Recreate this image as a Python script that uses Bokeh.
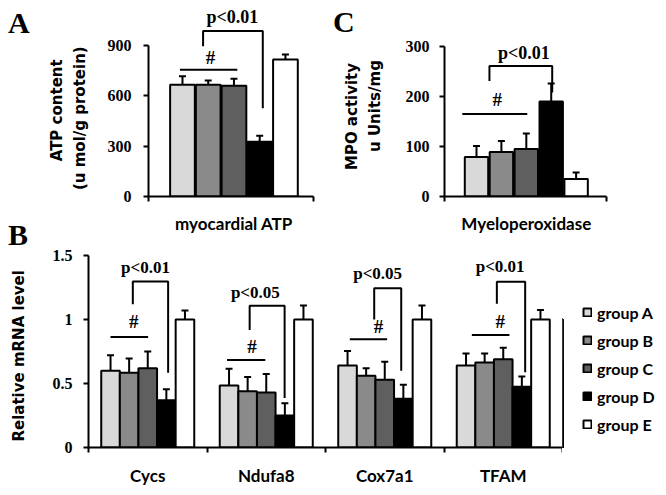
from bokeh.plotting import figure
from bokeh.layouts import column, row
from bokeh.models import (Range1d, FixedTicker, ColumnDataSource, Whisker, TeeHead,
                          Legend, LegendItem, LinearAxis, Div)
from bokeh.embed import file_html
from bokeh.resources import INLINE
from bokeh.core.properties import value

# ---------------- data ----------------
groups = ["group A", "group B", "group C", "group D", "group E"]

atp_category = "myocardial ATP"
atp_mean = [666, 666, 660, 326, 816]
atp_sd = [50, 26, 42, 36, 30]
atp_ticks = [0, 300, 600, 900]

mpo_category = "Myeloperoxidase"
mpo_mean = [79, 89, 95, 190, 35]
mpo_sd = [22, 22, 31, 36, 13]
mpo_ticks = [0, 100, 200, 300]

genes = ["Cycs", "Ndufa8", "Cox7a1", "TFAM"]
mrna_a = [0.60, 0.485, 0.64, 0.64]
mrna_b = [0.585, 0.44, 0.56, 0.665]
mrna_c = [0.62, 0.43, 0.53, 0.69]
mrna_d = [0.37, 0.25, 0.38, 0.475]
mrna_e = [1.0, 1.0, 1.0, 1.0]
mrna_a_sd = [0.12, 0.13, 0.115, 0.095]
mrna_b_sd = [0.11, 0.11, 0.06, 0.07]
mrna_c_sd = [0.13, 0.145, 0.14, 0.09]
mrna_d_sd = [0.085, 0.095, 0.11, 0.08]
mrna_e_sd = [0.07, 0.11, 0.11, 0.075]
mrna_ticks = [0, 0.5, 1, 1.5]
mrna_tick_labels = ["0", "0.5", "1", "1.5"]

atp_p = "p<0.01"
mpo_p = "p<0.01"
mrna_p = ["p<0.01", "p<0.05", "p<0.05", "p<0.01"]

# ---------------- styles / annotation layout ----------------
group_colors = ["#d9d9d9", "#8a8a8a", "#5f5f5f", "#000000", "#ffffff"]
SERIF = "Liberation Serif"
SANS = "DejaVu Sans"
CAT = "Lato"
NB = "\u00a0"  # non-breaking space used to nudge rotated axis labels along the axis

# significance geometry: hash line (x0,x1,y), hash text (x,y), bracket (xl,xr,yl,ytop,yr), p text (x,y)
atp_sig = dict(hx0=-0.1, hx1=2.13, hy=756, tx=1.09, ty=826, bl=0.8, br=3.12,
               bly=896, bt=986, bry=526, px=1.94, py=1072)
mpo_sig = dict(hx0=-0.57, hx1=2.04, hy=165, tx=0.83, ty=195, bl=0.52, br=3.04,
               bly=231, bt=261, bry=208, px=1.9, py=288)
mrna_sig = [
    dict(hx0=0.186, hx1=0.503, hy=0.864, tx=0.382, ty=0.984, bl=0.374, br=0.672,
         bly=1.12, bt=1.298, bry=0.584, px=0.481, py=1.408),
    dict(hx0=1.169, hx1=1.492, hy=0.683, tx=1.38, ty=0.788, bl=1.36, br=1.655,
         bly=0.919, bt=1.108, bry=0.387, px=1.408, py=1.212),
    dict(hx0=2.205, hx1=2.52, hy=0.845, tx=2.448, ty=0.943, bl=2.411, br=2.639,
         bly=1.0, bt=1.245, bry=0.60, px=2.44, py=1.36),
    dict(hx0=3.235, hx1=3.552, hy=0.879, tx=3.474, ty=0.987, bl=3.446, br=3.685,
         bly=1.124, bt=1.296, bry=0.588, px=3.474, py=1.412),
]


def make_fig(width, height, xr, yr, left, right, top, bottom, **kw):
    p = figure(width=width, height=height, x_range=Range1d(*xr), y_range=Range1d(*yr),
               toolbar_location=None, output_backend="svg", title=None,
               min_border_left=left, min_border_right=right, min_border_top=top,
               min_border_bottom=bottom, **kw)
    p.outline_line_color = None
    p.xgrid.visible = False
    p.ygrid.visible = False
    p.background_fill_color = "white"
    p.border_fill_color = "white"
    return p


def style_label(ax, text, standoff):
    ax.axis_label = text
    ax.axis_label_text_font = SANS
    ax.axis_label_text_font_style = "bold"
    ax.axis_label_text_font_size = "15px"
    ax.axis_label_text_color = "black"
    ax.axis_label_standoff = standoff


def style_yaxis(p, ticks, bounds, standoff, overrides=None):
    ax = p.yaxis[0]
    ax.ticker = FixedTicker(ticks=ticks, minor_ticks=[])
    ax.bounds = bounds
    ax.axis_line_width = 2
    ax.axis_line_color = "black"
    ax.major_tick_line_width = 2
    ax.major_tick_out = 5
    ax.major_tick_in = 0
    ax.minor_tick_line_color = None
    ax.major_label_text_font = SERIF
    ax.major_label_text_font_style = "bold"
    ax.major_label_text_font_size = "16px"
    ax.major_label_text_color = "black"
    ax.major_label_standoff = standoff
    if overrides:
        ax.major_label_overrides = overrides
    return ax


def outer_label_axis(p, text, bounds, standoff):
    ax = LinearAxis(ticker=FixedTicker(ticks=[], minor_ticks=[]), bounds=bounds)
    ax.axis_line_color = None
    ax.major_tick_line_color = None
    ax.minor_tick_line_color = None
    ax.major_tick_out = 0
    ax.major_tick_in = 0
    ax.minor_tick_out = 0
    ax.major_label_standoff = 0
    style_label(ax, text, standoff)
    p.add_layout(ax, "left")


def style_xaxis(p, ticks, minor, labels, standoff):
    ax = p.xaxis[0]
    ax.ticker = FixedTicker(ticks=ticks, minor_ticks=minor)
    ax.major_label_overrides = labels
    ax.axis_line_width = 2
    ax.axis_line_color = "black"
    ax.major_tick_line_color = None
    ax.major_tick_out = 0
    ax.major_tick_in = 0
    ax.minor_tick_line_width = 2
    ax.minor_tick_line_color = "black"
    ax.minor_tick_out = 5
    ax.minor_tick_in = 0
    ax.major_label_text_font = CAT
    ax.major_label_text_font_style = "bold"
    ax.major_label_text_font_size = "17px"
    ax.major_label_text_color = "black"
    ax.major_label_standoff = standoff


def add_sig(p, s, ptext, size="17px"):
    p.line([s["hx0"], s["hx1"]], [s["hy"], s["hy"]], line_color="black", line_width=2)
    p.line([s["bl"], s["bl"], s["br"], s["br"]], [s["bly"], s["bt"], s["bt"], s["bry"]],
           line_color="black", line_width=2)
    p.text(x=[s["px"]], y=[s["py"]], text=[ptext],
           text_font=value(SERIF), text_font_style="bold", text_font_size=size,
           text_align="center", text_baseline="middle", text_color="black")
    p.text(x=[s["tx"]], y=[s["ty"]], text=["#"],
           text_font=value(SERIF), text_font_style="bold", text_font_size="19px",
           text_align="center", text_baseline="middle", text_color="black")


def add_simple_bars(p, means, sds, width):
    xs = list(range(len(means)))
    for i, g in enumerate(groups):
        p.vbar(x=[xs[i]], top=[means[i]], bottom=0, width=width,
               fill_color=group_colors[i], line_color="black", line_width=2)
    src = ColumnDataSource(dict(x=xs, lower=means, upper=[m + s for m, s in zip(means, sds)]))
    p.add_layout(Whisker(source=src, base="x", lower="lower", upper="upper",
                         line_width=2, line_color="black",
                         upper_head=TeeHead(size=7, line_width=2, line_color="black"),
                         lower_head=None))


LETTER_STYLE = ("position:absolute;font-family:'Liberation Serif';font-weight:bold;"
                "font-size:30px;line-height:30px;color:black;margin:0;padding:0")

div_ab = Div(text=('<div style="position:relative;width:44px;height:248px">'
                   f'<span style="{LETTER_STYLE};left:8px;top:8px">A</span>'
                   f'<span style="{LETTER_STYLE};left:8px;top:220px">B</span></div>'),
             width=44, height=248, margin=0)
div_c = Div(text=('<div style="position:relative;width:336px;height:36px">'
                  f'<span style="{LETTER_STYLE};left:3px;top:7px">C</span></div>'),
            width=336, height=36, margin=0)

# ---------------- panel A ----------------
pa = make_fig(286, 248, (-1.32, 5.09), (0, 1120.5), 100, 17, 8, 52)
add_simple_bars(pa, atp_mean, atp_sd, 0.96)
ax = style_yaxis(pa, atp_ticks, (0, 900), 12)
style_label(ax, "(u mol/g protein)" + NB * 6, 16)
outer_label_axis(pa, "ATP content" + NB * 3, (0, 900), 2)
style_xaxis(pa, [2], [-1.319, 5.089], {2: atp_category}, 11)
add_sig(pa, atp_sig, atp_p, "18px")

# ---------------- panel C ----------------
pc = make_fig(336, 212, (-1.285, 5.22), (0, 320), 114, 60, 0, 52)
add_simple_bars(pc, mpo_mean, mpo_sd, 0.94)
ax = style_yaxis(pc, mpo_ticks, (0, 300), 10)
style_label(ax, NB * 4 + "u Units/mg", 19)
outer_label_axis(pc, "MPO activity", (0, 300), 2)
style_xaxis(pc, [2], [-1.284, 5.219], {2: mpo_category}, 11)
add_sig(pc, mpo_sig, mpo_p, "18px")

# ---------------- panel B ----------------
pb = make_fig(562, 247, (0, 4), (0, 1.555), 88, 0, 0, 48)
bw = 0.157
mrna_means = [mrna_a, mrna_b, mrna_c, mrna_d, mrna_e]
mrna_sds = [mrna_a_sd, mrna_b_sd, mrna_c_sd, mrna_d_sd, mrna_e_sd]
bar_sources = []
wx, wl, wu = [], [], []
for i, g in enumerate(groups):
    xs = [k + 0.5 + (i - 2) * bw for k in range(len(genes))]
    src = ColumnDataSource(dict(x=xs, top=mrna_means[i]))
    bar_sources.append(src)
    pb.vbar(x="x", top="top", bottom=0, width=bw, source=src,
            fill_color=group_colors[i], line_color="black", line_width=2)
    wx += xs
    wl += mrna_means[i]
    wu += [m + s for m, s in zip(mrna_means[i], mrna_sds[i])]
pb.add_layout(Whisker(source=ColumnDataSource(dict(x=wx, lower=wl, upper=wu)),
                      base="x", lower="lower", upper="upper", line_width=2, line_color="black",
                      upper_head=TeeHead(size=7, line_width=2, line_color="black"),
                      lower_head=None))
ax = style_yaxis(pb, mrna_ticks, (0, 1.5), 11, {t: l for t, l in zip(mrna_ticks, mrna_tick_labels)})
style_label(ax, "Relative mRNA  level" + NB * 2, 22)
style_xaxis(pb, [k + 0.5 for k in range(len(genes))], [0.001, 1, 2, 3, 3.999],
            {k + 0.5: gname for k, gname in enumerate(genes)}, 12)
for k, s in enumerate(mrna_sig):
    add_sig(pb, s, mrna_p[k])

# ---------------- legend (own canvas right of panel B) ----------------
# the same bar data is re-used here; its x-range keeps the bars off-canvas so only the legend shows
pl = make_fig(104, 247, (10, 11), (0, 1.555), 0, 0, 0, 48,
              x_axis_location=None, y_axis_location=None)
items = []
for i, g in enumerate(groups):
    r = pl.vbar(x="x", top="top", bottom=0, width=bw, source=bar_sources[i],
                fill_color=group_colors[i], line_color="black", line_width=2)
    items.append(LegendItem(label=g, renderers=[r]))
legend = Legend(items=items, location=(20, 13), orientation="vertical",
                border_line_color=None, background_fill_alpha=0, padding=0, margin=0,
                spacing=8, label_height=20, glyph_height=10, glyph_width=10,
                label_standoff=5, label_text_font=CAT, label_text_font_style="bold",
                label_text_font_size="16px", label_text_baseline="middle",
                label_text_color="black")
pl.add_layout(legend)

layout = column(row(div_ab, pa, column(div_c, pc)), row(pb, pl))
open("out.html", "w").write(file_html(layout, INLINE))
